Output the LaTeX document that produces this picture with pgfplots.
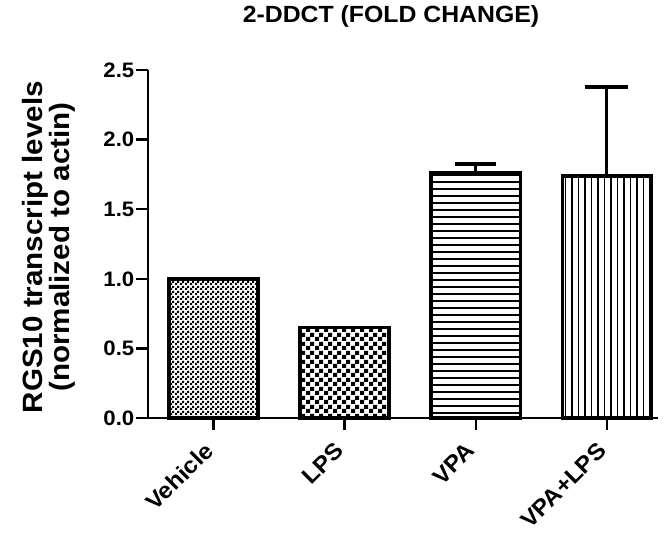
\documentclass[border=0pt]{standalone}
\usepackage{pgfplots}
\pgfplotsset{compat=1.18}
\usepackage{fontspec}
\setmainfont[FakeStretch=1.06]{Liberation Sans}
\usetikzlibrary{patterns}
\pgfdeclarepatternformonly{finecheck}{\pgfpointorigin}{\pgfqpoint{4.6bp}{4.6bp}}{\pgfqpoint{4.6bp}{4.6bp}}{%
  \pgfpathrectangle{\pgfpointorigin}{\pgfqpoint{2.3bp}{2.3bp}}%
  \pgfpathrectangle{\pgfqpoint{2.3bp}{2.3bp}}{\pgfqpoint{2.3bp}{2.3bp}}%
  \pgfusepath{fill}}
\pgfdeclarepatternformonly{coarsecheck}{\pgfpointorigin}{\pgfqpoint{9bp}{9bp}}{\pgfqpoint{9bp}{9bp}}{%
  \pgfpathrectangle{\pgfpointorigin}{\pgfqpoint{4.5bp}{4.5bp}}%
  \pgfpathrectangle{\pgfqpoint{4.5bp}{4.5bp}}{\pgfqpoint{4.5bp}{4.5bp}}%
  \pgfusepath{fill}}
\pgfdeclarepatternformonly{hlines}{\pgfqpoint{-1bp}{-1bp}}{\pgfqpoint{1bp}{7bp}}{\pgfqpoint{1bp}{7bp}}{%
  \pgfsetlinewidth{1.3bp}%
  \pgfpathmoveto{\pgfqpoint{-1bp}{0bp}}\pgfpathlineto{\pgfqpoint{1bp}{0bp}}%
  \pgfusepath{stroke}}
\pgfdeclarepatternformonly{vlines}{\pgfqpoint{-1bp}{-1bp}}{\pgfqpoint{6.5bp}{1bp}}{\pgfqpoint{6.5bp}{1bp}}{%
  \pgfsetlinewidth{1.3bp}%
  \pgfpathmoveto{\pgfqpoint{0bp}{-1bp}}\pgfpathlineto{\pgfqpoint{0bp}{1bp}}%
  \pgfusepath{stroke}}
\begin{document}
\begin{tikzpicture}
\begin{axis}[
  scale only axis,
  width=510bp, height=348bp,
  xmin=-0.5, xmax=3.39,
  ymin=0, ymax=2.5,
  axis lines=left,
  axis line style={-, line width=2.6bp},
  xtick={0,1,2,3},
  xticklabels={Vehicle,LPS,VPA,VPA+LPS},
  ytick={0,0.5,1,1.5,2,2.5},
  yticklabel style={/pgf/number format/fixed,/pgf/number format/fixed zerofill,/pgf/number format/precision=1},
  /pgf/number format/assume math mode=true,
  tick align=outside,
  major tick length=12bp,
  tick style={line width=2.4bp, black},
  y tick label style={font=\bfseries\fontsize{21}{23}\selectfont, inner sep=1.5bp},
  x tick label style={font=\bfseries\fontsize{23}{25}\selectfont, rotate=45, anchor=north east, inner sep=0pt, xshift=-15bp, yshift=0bp},
  title={\bfseries\fontsize{23.5}{26}\selectfont 2-DDCT (FOLD CHANGE)},
  title style={at={(axis description cs:0.4765,1)}, anchor=center, yshift=48bp},
  ylabel={\bfseries\fontsize{28}{31}\selectfont RGS10 transcript levels\\\bfseries\fontsize{28}{31}\selectfont (normalized to actin)},
  ylabel style={align=center, at={(axis description cs:-0.195,0.491)}, anchor=center, rotate=0},
  clip=false,
  bar width=0.68,
]
\addplot[ybar, draw=black, line width=3.5bp, pattern=finecheck, pattern color=black] coordinates {(0,1.00)};
\addplot[ybar, draw=black, line width=3.5bp, pattern=coarsecheck, pattern color=black] coordinates {(1,0.65)};
\addplot[ybar, draw=black, line width=3.5bp, pattern=hlines, pattern color=black,
  error bars/.cd, y dir=plus, y explicit, error bar style={line width=3bp, black},
  error mark options={rotate=90, mark size=20.5bp, line width=4bp}] coordinates {(2,1.76) +- (0,0.065)};
\addplot[ybar, draw=black, line width=3.5bp, pattern=vlines, pattern color=black,
  error bars/.cd, y dir=plus, y explicit, error bar style={line width=3bp, black},
  error mark options={rotate=90, mark size=21.5bp, line width=4bp}] coordinates {(3,1.74) +- (0,0.64)};
\end{axis}
\pgfresetboundingbox
\useasboundingbox ([xshift=-148bp, yshift=-121bp]current axis.south west) rectangle ([xshift=5bp, yshift=70bp]current axis.north east);
\end{tikzpicture}
\end{document}
